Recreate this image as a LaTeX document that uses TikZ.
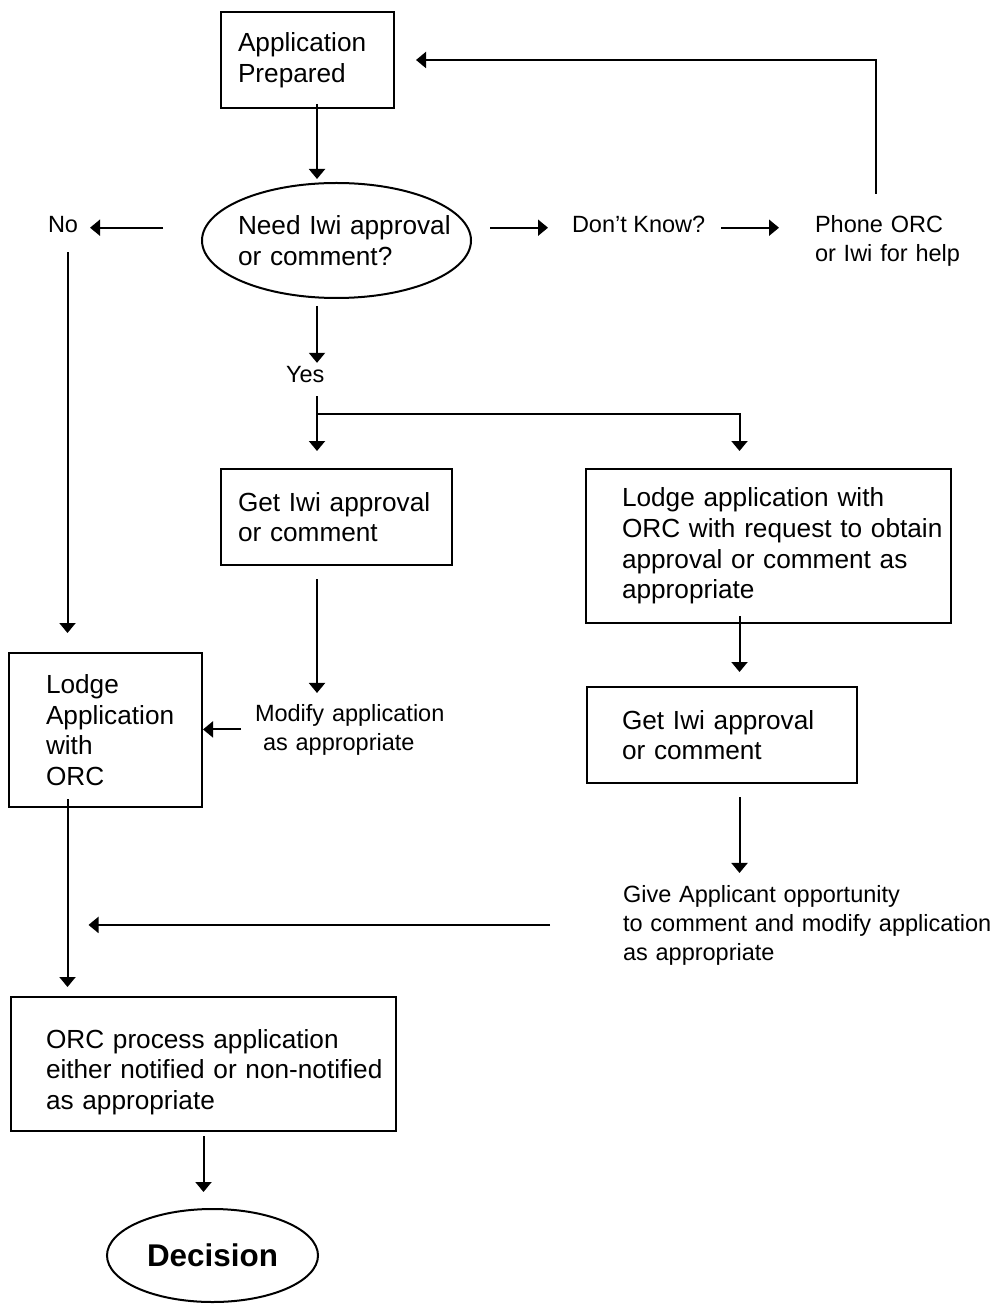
\documentclass[tikz,border=0pt]{standalone}
\usepackage{fontspec}
\setmainfont{Liberation Sans}
\usetikzlibrary{arrows.meta,shapes.geometric,positioning}

\newcommand{\BoxFont}{\fontsize{13.1pt}{15.3pt}\selectfont}
\newcommand{\LblFont}{\fontsize{11.75pt}{14.5pt}\selectfont}
\newcommand{\EndFont}{\fontsize{15.7pt}{18pt}\selectfont\bfseries}

\tikzset{
	procbox/.style n args={3}{draw, rectangle, inner sep=0pt, align=left, font=\BoxFont,
		text width=#1, minimum height=#2, execute at begin node={\leftskip=#3\relax}},
	askoval/.style n args={3}{draw, ellipse, inner sep=-40pt, align=left, font=\BoxFont,
		text width=#1, minimum width=#1, minimum height=#2, execute at begin node={\leftskip=#3\relax}},
	endoval/.style={draw, ellipse, inner sep=-40pt, font=\EndFont, minimum width=105.5pt, minimum height=46.5pt},
	lbl/.style={inner sep=0pt, align=left, font=\LblFont}
}

\begin{document}
\begin{tikzpicture}[x=0.5pt, y=-0.5pt, line width=1pt, >={Triangle[length=5pt,width=8pt]}]
	\useasboundingbox (0,0) rectangle (998,1304);
	
	\coordinate (LeftCol) at (67.5,0);
	\coordinate (MidCol) at (317,0);
	\coordinate (RightCol) at (739.5,0);
	\coordinate (FeedCol) at (876,0);
	\coordinate (YesFork) at (317,414);
	
	% BOXES
	\node[procbox={86.5pt}{48pt}{8.5pt}] (AppPrepared) at (307.5,60) {Application\\Prepared};
	\node[askoval={134.5pt}{57.5pt}{18pt}] (NeedIwi) at (336.5,240.5) {Need Iwi approval\\or comment?};
	\node[procbox={115.5pt}{48pt}{8.5pt}] (GetIwiL) at (336.5,517) {Get Iwi approval\\or comment};
	\node[procbox={182.5pt}{77pt}{18pt}] (LodgeOrcReq) at (768.5,546) {Lodge application with\\ORC with request to obtain\\approval or comment as\\appropriate};
	\node[procbox={96.5pt}{77pt}{18.5pt}] (LodgeApp) at (105.5,730) {Lodge\\Application\\with\\ORC};
	\node[procbox={135pt}{48pt}{17.5pt}] (GetIwiR) at (722,735) {Get Iwi approval\\or comment};
	\node[procbox={192.5pt}{67pt}{17.5pt}, text height=17.5pt] (OrcProcess) at (203.5,1064) {ORC process application\\either notified or non-notified\\as appropriate};
	\node[endoval] (Decision) at (212.5,1255.5) {Decision};
	
	% LABELS
	\node[lbl, anchor=base west] (NoLbl) at (47,233) {No};
	\node[lbl, anchor=base west] (DontKnow) at (571,233) {Don’t Know?};
	\node[lbl, anchor=base west, text width=80pt] (PhoneOrc) at (814,233) {Phone ORC\\or Iwi for help};
	\node[lbl, anchor=base west] (YesLbl) at (285,383) {Yes};
	\node[lbl, anchor=base west, text width=100pt] (ModifyApp) at (254,721) {Modify application\\\hspace*{4pt}as appropriate};
	\node[lbl, anchor=base west, text width=190pt] (GiveApplicant) at (622,902) {Give Applicant opportunity\\to comment and modify application\\as appropriate};
	
	% TOP
	\draw[->, shorten <=-2.5pt, shorten >=1.5pt] (AppPrepared.south -| MidCol) -- (NeedIwi.north -| MidCol);
	\draw[->, shorten <=19pt, shorten >=5.5pt] (NeedIwi.west |- NoLbl.mid east) -- (NoLbl.mid east);
	\draw[->, shorten <=9pt, shorten >=11.5pt] (NeedIwi.east |- DontKnow.mid west) -- (DontKnow.mid west);
	\draw[->, shorten <=7.5pt, shorten >=17.5pt] (DontKnow.mid east) -- (DontKnow.mid east -| PhoneOrc.west);
	\draw[->, shorten <=10.5pt, shorten >=10.5pt] (PhoneOrc.north -| FeedCol) |- (AppPrepared.east);
	
	% YES BRANCH
	\draw[->, shorten <=3.5pt, shorten >=1.5pt] (NeedIwi.south -| MidCol) -- (YesLbl.north -| MidCol);
	\draw[->, shorten <=6pt, shorten >=8.5pt] (YesLbl.south -| MidCol) -- (GetIwiL.north -| MidCol);
	\draw[->, shorten >=8.5pt] (YesFork) -| (LodgeOrcReq.north -| RightCol);
	\draw[->, shorten <=6.5pt, shorten >=5pt] (GetIwiL.south -| MidCol) -- (ModifyApp.north -| MidCol);
	\draw[->, shorten <=6.5pt] (ModifyApp.west) -- (ModifyApp.west -| LodgeApp.east);
	\draw[->, shorten <=-4pt, shorten >=7pt] (LodgeOrcReq.south -| RightCol) -- (GetIwiR.north -| RightCol);
	\draw[->, shorten <=6.5pt, shorten >=5.5pt] (GetIwiR.south -| RightCol) -- (GiveApplicant.north -| RightCol);
	
	% NO BRANCH
	\draw[->, shorten <=9pt, shorten >=9.5pt] (NoLbl.south -| LeftCol) -- (LodgeApp.north -| LeftCol);
	\draw[->, shorten <=-4.5pt, shorten >=4.5pt] (LodgeApp.south -| LeftCol) -- (OrcProcess.north -| LeftCol);
	\draw[->, shorten <=36pt, shorten >=10.5pt] (GiveApplicant.west) -- (GiveApplicant.west -| LeftCol);
	
	% DECISION
	\draw[->, shorten <=2pt, shorten >=8pt] (OrcProcess.south) -- (OrcProcess.south |- Decision.north);
\end{tikzpicture}
\end{document}
